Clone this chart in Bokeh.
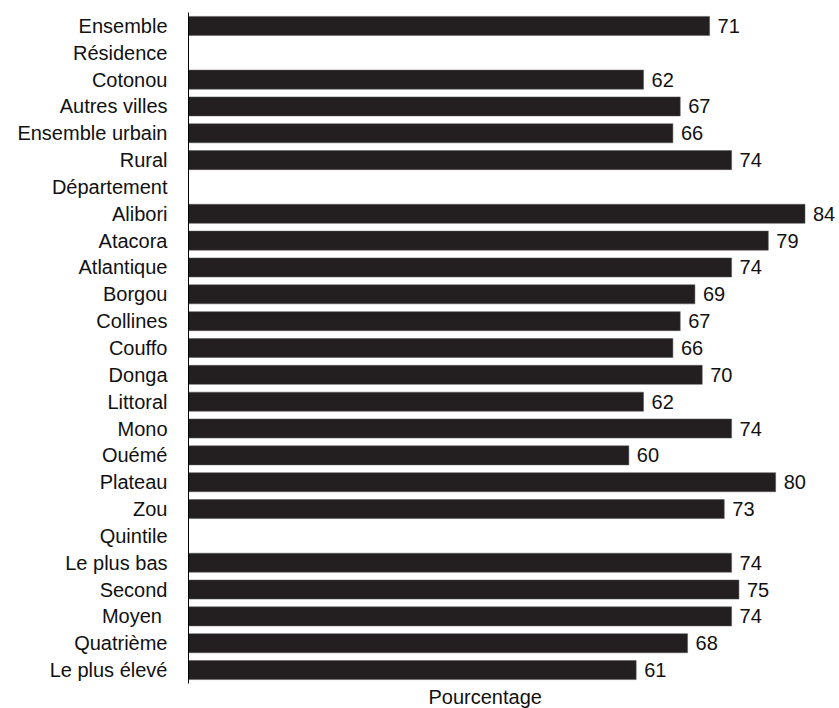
from bokeh.plotting import figure
from bokeh.models import ColumnDataSource, FactorRange, Range1d, LabelSet, Title
from bokeh.core.properties import value
from bokeh.embed import file_html
from bokeh.resources import INLINE

categories = ["Ensemble", "Résidence", "Cotonou", "Autres villes", "Ensemble urbain", "Rural",
              "Département", "Alibori", "Atacora", "Atlantique", "Borgou", "Collines", "Couffo",
              "Donga", "Littoral", "Mono", "Ouémé", "Plateau", "Zou", "Quintile",
              "Le plus bas", "Second", "Moyen ", "Quatrième", "Le plus élevé"]
values = [71, None, 62, 67, 66, 74,
          None, 84, 79, 74, 69, 67, 66, 70, 62, 74, 60, 80, 73, None,
          74, 75, 74, 68, 61]
x_title = "Pourcentage"

bar_cats = [c for c, v in zip(categories, values) if v is not None]
bar_vals = [v for v in values if v is not None]
src = ColumnDataSource(dict(cat=bar_cats, val=bar_vals, lab=[str(v) for v in bar_vals]))

FONT = "Liberation Sans"
FS = "20px"

p = figure(width=839, height=708, output_backend="svg", toolbar_location=None,
           y_range=FactorRange(*reversed(categories), range_padding=0),
           x_range=Range1d(0, 88.7), x_axis_location=None)
p.min_border_left = 188
p.min_border_right = 0
p.min_border_top = 12
p.min_border_bottom = 25
p.outline_line_color = None
p.grid.visible = False

p.hbar(y="cat", right="val", left=0, height=0.71, source=src,
       fill_color="#231f20", line_color="#555555", line_width=0.5)

p.add_layout(LabelSet(x="val", y="cat", text="lab", source=src, x_offset=8, y_offset=0,
                      text_baseline="middle", text_font=value(FONT), text_font_size=FS,
                      text_color="#111111"))

ax = p.yaxis[0]
ax.major_tick_line_color = None
ax.minor_tick_line_color = None
ax.major_tick_out = 0
ax.major_tick_in = 0
ax.major_label_standoff = 21
ax.major_label_text_font = FONT
ax.major_label_text_font_size = FS
ax.major_label_text_color = "#111111"
ax.axis_line_color = "#000000"
ax.axis_line_width = 1

p.add_layout(Title(text=x_title, align="left", offset=240, text_font=FONT,
                   text_font_size=FS, text_font_style="normal", text_color="#111111",
                   standoff=0), "below")

open("out.html", "w").write(file_html(p, INLINE))
